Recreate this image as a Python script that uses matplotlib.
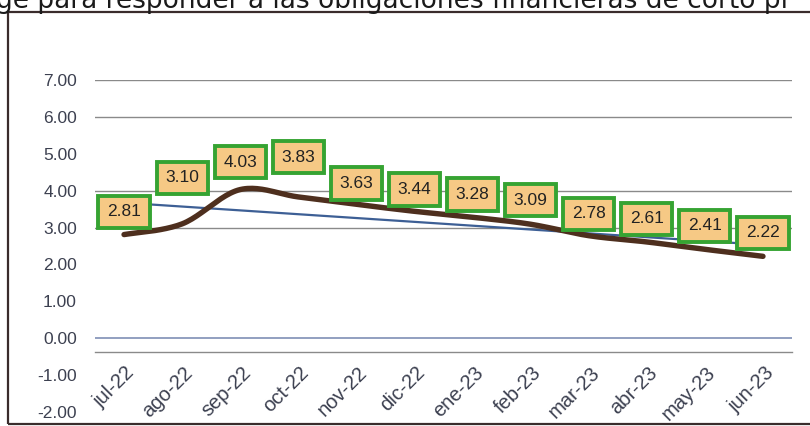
import numpy as np
import matplotlib.pyplot as plt
import matplotlib.transforms as mtransforms
from matplotlib.patches import Rectangle

months = ['jul-22', 'ago-22', 'sep-22', 'oct-22', 'nov-22', 'dic-22',
          'ene-23', 'feb-23', 'mar-23', 'abr-23', 'may-23', 'jun-23']
values = [2.81, 3.10, 4.03, 3.83, 3.63, 3.44, 3.28, 3.09, 2.78, 2.61, 2.41, 2.22]
yticks = [-2, -1, 0, 1, 2, 3, 4, 5, 6, 7]
header = 'ge para responder a las obligaciones financieras de corto pl'


def smooth(x, y, n=25, aspect=1.57):
    # excel-like smoothed line (bezier through the points)
    pts = np.column_stack([np.asarray(x, float) * aspect, y])
    P = np.vstack([pts[0], pts, pts[-1]])
    t = np.linspace(0, 1, n)[:, None]
    segs = []
    for i in range(1, len(P) - 2):
        p0, p1, p2, p3 = P[i - 1], P[i], P[i + 1], P[i + 2]
        c1 = p1 + (p2 - p0) / 6
        c2 = p2 - (p3 - p1) / 6
        segs.append((1 - t) ** 3 * p1 + 3 * (1 - t) ** 2 * t * c1
                    + 3 * (1 - t) * t ** 2 * c2 + t ** 3 * p2)
    out = np.vstack(segs)
    return out[:, 0] / aspect, out[:, 1]


fig = plt.figure(figsize=(8.1, 4.26), dpi=100)
ax = fig.add_axes([95 / 810, 14 / 426, 697 / 810, 332 / 426])

x = np.arange(len(months))
ax.set_xlim(-0.5, 11.5)
ax.set_ylim(-2, 7)

# gridlines that survived the scan
for g in [7, 6, 4, 3]:
    ax.axhline(g, color='#8a8a8a', lw=1.0, zorder=1)
ax.axhline(0, color='#7f8fb5', lw=1.2, zorder=1)

# linear trend
k, b = np.polyfit(x, values, 1)
ax.plot(x, k * x + b, color='#3d5f95', lw=1.6, zorder=2)

sx, sy = smooth(x, values)
ax.plot(sx, sy, color='#4e2f1e', lw=3.9, solid_capstyle='round', zorder=3)

# data labels
lift = [0.62, 1.25, 0.74, 1.08, 0.56, 0.59, 0.62, 0.65, 0.59, 0.63, 0.64, 0.64]
for i, v in enumerate(values):
    ax.text(i, v + lift[i], f'{v:.2f}', ha='center', va='center',
            fontsize=12.5, family='Liberation Sans', color='#222222', zorder=5,
            bbox=dict(boxstyle='square,pad=0.5', fc='#f6c985',
                      ec='#36a332', lw=2.8))

for s in ['top', 'right', 'left']:
    ax.spines[s].set_visible(False)
ax.spines['bottom'].set_position(('data', -0.38))
ax.spines['bottom'].set_color('#8a8a8a')
ax.spines['bottom'].set_linewidth(1.0)

ax.set_yticks(yticks)
ax.set_yticklabels([f'{t:.2f}' for t in yticks], family='Liberation Sans',
                   fontsize=12.5, color='#3c4050')
ax.tick_params(axis='y', length=0, pad=13)
ax.set_xticks(x)
ax.set_xticklabels(months, rotation=45, ha='right', rotation_mode='anchor',
                   family='Liberation Sans', fontsize=14.5, color='#3c4050')
ax.tick_params(axis='x', length=0, pad=2)
shift = mtransforms.ScaledTranslation(1 / 100, -8 / 100, fig.dpi_scale_trans)
for lab in ax.get_xticklabels():
    lab.set_transform(lab.get_transform() + shift)

# chart frame from the document
fig.patches.append(Rectangle((8 / 810, 2 / 426), 820 / 810, 412 / 426,
                             transform=fig.transFigure, fill=False,
                             ec='#3a2c2c', lw=1.6))
fig.text(-4 / 810, 1 - 8 / 426, header, ha='left', va='baseline',
         fontsize=19, color='#1a1a1a')

fig.savefig('out.png', dpi=100)
